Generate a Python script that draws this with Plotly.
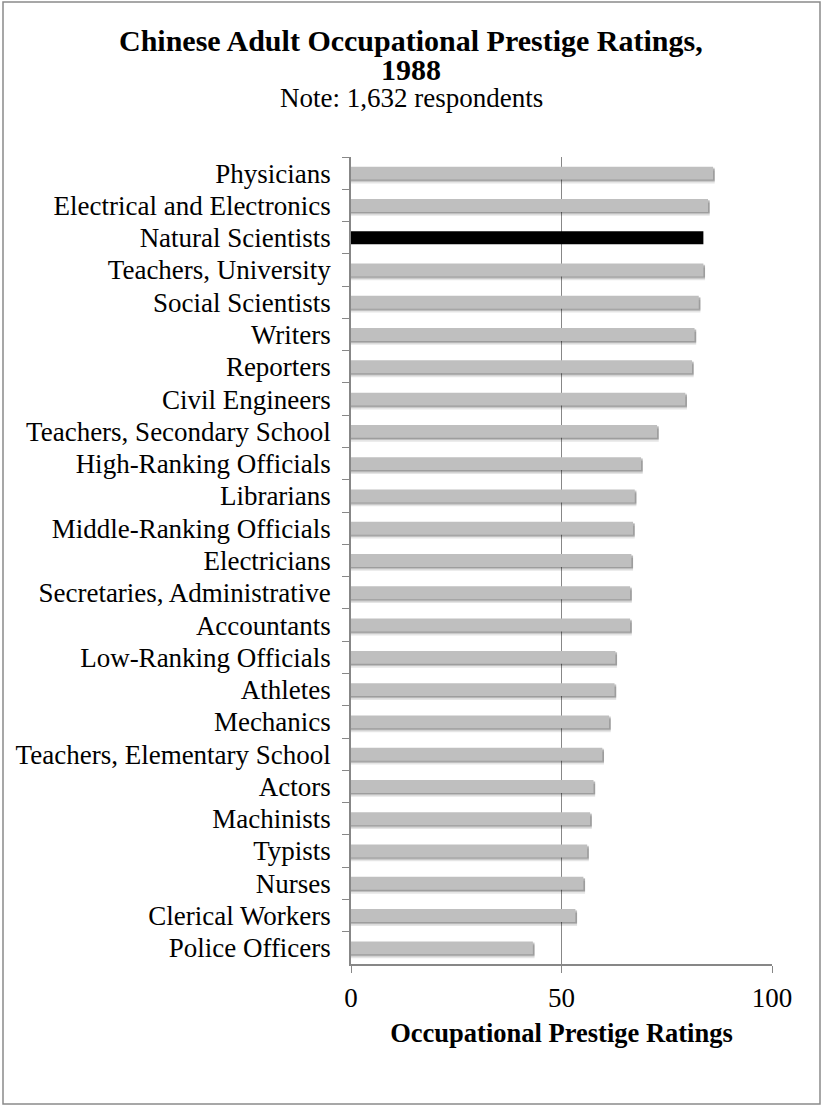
import plotly.graph_objects as go

# Occupations, listed from top to bottom of the chart
occupations = [
    "Physicians", "Electrical and Electronics", "Natural Scientists",
    "Teachers, University", "Social Scientists", "Writers", "Reporters",
    "Civil Engineers", "Teachers, Secondary School", "High-Ranking Officials",
    "Librarians", "Middle-Ranking Officials", "Electricians",
    "Secretaries, Administrative", "Accountants", "Low-Ranking Officials",
    "Athletes", "Mechanics", "Teachers, Elementary School", "Actors",
    "Machinists", "Typists", "Nurses", "Clerical Workers", "Police Officers",
]
ratings = [
    86.0, 84.8, 83.7, 83.7, 82.6, 81.6, 81.0, 79.4, 72.7, 68.9,
    67.4, 67.0, 66.6, 66.3, 66.3, 62.8, 62.6, 61.3, 59.7, 57.6,
    56.8, 56.1, 55.2, 53.3, 43.2,
]
highlight = "Natural Scientists"

FONT = "Liberation Serif"
BAR_W = 0.4

colors = ["#000000" if o == highlight else "#bfbfbf" for o in occupations]

fig = go.Figure()

# soft drop shadow under the grey bars
shadow_vals = [None if o == highlight else v for o, v in zip(occupations, ratings)]
for shift, alpha in [(0.12, 0.10), (0.07, 0.16), (0.035, 0.18)]:
    fig.add_trace(go.Bar(
        y=occupations, x=[None if v is None else v + 0.4 for v in shadow_vals],
        orientation="h", width=BAR_W, offset=-BAR_W / 2 + shift,
        marker=dict(color=f"rgba(0,0,0,{alpha})", line=dict(width=0)),
        hoverinfo="skip", showlegend=False,
    ))

fig.add_trace(go.Bar(
    y=occupations, x=ratings, orientation="h", width=BAR_W,
    offset=-BAR_W / 2,
    marker=dict(color=colors, line=dict(width=0)),
    showlegend=False,
))

L, R, T, B = 351, 50, 157, 142
W, H = 822, 1106
plot_h = H - T - B
plot_w = W - L - R


def py(p):
    return (H - B - p) / plot_h


def px(p):
    return (p - L) / plot_w


fig.update_layout(
    width=W, height=H,
    margin=dict(l=L, r=R, t=T, b=B),
    paper_bgcolor="white", plot_bgcolor="white",
    barmode="overlay",
    font=dict(family=FONT, color="black", size=27),
    xaxis=dict(
        range=[0, 100], tickvals=[0, 50, 100], ticktext=["0", "50", "100"],
        showgrid=True, gridcolor="#878787", gridwidth=1.2,
        zeroline=False, showline=True, linecolor="#878787", linewidth=1.5,
        ticks="outside", ticklen=7, tickcolor="#878787", tickwidth=1.2,
        tickfont=dict(size=27), ticklabelstandoff=2,
        title=dict(text="<b>Occupational Prestige Ratings</b>",
                   font=dict(size=26.5), standoff=11),
        fixedrange=True,
    ),
    yaxis=dict(
        categoryorder="array", categoryarray=occupations,
        autorange="reversed", tickson="boundaries",
        showgrid=False, zeroline=False,
        showline=True, linecolor="#878787", linewidth=1.5,
        ticks="outside", ticklen=7, tickcolor="#878787", tickwidth=1.2,
        tickfont=dict(size=27), ticklabelstandoff=13,
        fixedrange=True,
    ),
    annotations=[
        dict(text="<b>Chinese Adult Occupational Prestige Ratings,</b>",
             xref="paper", yref="paper", x=px(411), y=py(41),
             xanchor="center", yanchor="middle", showarrow=False,
             font=dict(size=30)),
        dict(text="<b>1988</b>",
             xref="paper", yref="paper", x=px(411), y=py(70),
             xanchor="center", yanchor="middle", showarrow=False,
             font=dict(size=30)),
        dict(text="Note: 1,632 respondents",
             xref="paper", yref="paper", x=px(411), y=py(98),
             xanchor="center", yanchor="middle", showarrow=False,
             font=dict(size=27)),
    ],
    shapes=[
        dict(type="rect", xref="paper", yref="paper",
             x0=px(3), x1=px(820), y0=py(1104), y1=py(2),
             line=dict(color="#8a8a8a", width=1.5), layer="below"),
    ],
)

fig.write_html("out.html")
